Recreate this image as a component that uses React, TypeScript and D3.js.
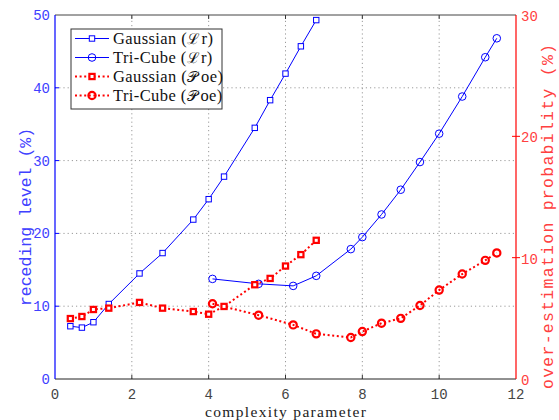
import React from 'react';
import * as d3 from 'd3';

// Axis ticks
const xTicks = [0, 2, 4, 6, 8, 10, 12];
const leftTicks = [0, 10, 20, 30, 40, 50];
const rightTicks = [0, 10, 20, 30];
const gridX = [2, 4, 6, 8, 10];
const gridY = [10, 20, 30, 40];

// Gaussian kernel: complexity parameter, receding level (%), over-estimation probability (%)
const gaussX = [0.4, 0.7, 1.0, 1.4, 2.2, 2.8, 3.6, 4.0, 4.4, 5.2, 5.6, 6.0, 6.4, 6.8];
const gaussLr = [7.25, 7.06, 7.8, 10.3, 14.5, 17.3, 21.9, 24.7, 27.8, 34.5, 38.3, 41.95, 45.7, 49.3];
const gaussPoe = [4.98, 5.15, 5.73, 5.84, 6.31, 5.84, 5.56, 5.34, 5.98, 7.77, 8.29, 9.31, 10.25, 11.43];

// Tri-Cube kernel
const triX = [4.1, 5.3, 6.2, 6.8, 7.7, 8.0, 8.5, 9.0, 9.5, 10.0, 10.6, 11.2, 11.5];
const triLr = [13.75, 13.07, 12.79, 14.17, 17.84, 19.49, 22.6, 26.0, 29.8, 33.7, 38.8, 44.2, 46.8];
const triPoe = [6.2, 5.26, 4.46, 3.72, 3.42, 3.91, 4.6, 5.0, 6.06, 7.33, 8.65, 9.78, 10.39];

// Legend entries: kernel name, script symbol, suffix
const legendKernels = ['Gaussian', 'Tri-Cube', 'Gaussian', 'Tri-Cube'];
const legendSymbols = ['ℒ', 'ℒ', '𝒫', '𝒫'];
const legendSuffix = ['r', 'r', 'oe', 'oe'];

const W = 559;
const H = 420;
const L = 55, R = 516, T = 15, B = 379;

const BLUE = '#0000ff';
const RED = '#ff0000';
const BLUE_TXT = '#4040ff';
const RED_TXT = '#ff4040';
const MONO = '"Liberation Mono", "DejaVu Sans Mono", monospace';
const SERIF = '"Liberation Serif", "DejaVu Serif", serif';

const x = d3.scaleLinear().domain([0, 12]).range([L, R]);
const yL = d3.scaleLinear().domain([0, 50]).range([B, T]);
const yR = d3.scaleLinear().domain([0, 30]).range([B, T]);

function pts(xs: number[], ys: number[]): [number, number][] {
  return xs.map((v, i) => [v, ys[i]]);
}

const lineL = d3.line<[number, number]>().x(d => x(d[0])).y(d => yL(d[1]));
const lineR = d3.line<[number, number]>().x(d => x(d[0])).y(d => yR(d[1]));

const BlueSquare = ({ cx, cy }: { cx: number; cy: number }) => (
  <rect x={cx - 2.7} y={cy - 2.7} width={5.4} height={5.4} fill="white" stroke={BLUE} strokeWidth={1} />
);
const BlueCircle = ({ cx, cy }: { cx: number; cy: number }) => (
  <circle cx={cx} cy={cy} r={3.8} fill="none" stroke={BLUE} strokeWidth={1} />
);
const RedSquare = ({ cx, cy }: { cx: number; cy: number }) => (
  <rect x={cx - 2.6} y={cy - 2.6} width={5.2} height={5.2} fill="white" stroke={RED} strokeWidth={2.2} />
);
const RedCircle = ({ cx, cy }: { cx: number; cy: number }) => (
  <circle cx={cx} cy={cy} r={3.6} fill="none" stroke={RED} strokeWidth={2.2} />
);

export default function App() {
  const gL = pts(gaussX, gaussLr);
  const tL = pts(triX, triLr);
  const gP = pts(gaussX, gaussPoe);
  const tP = pts(triX, triPoe);
  const dotted = '2,2.6';
  const gridDash = '1.2,3';

  const legendRows = [38.5, 57.5, 76.5, 95.5];
  const lx0 = 75, lx1 = 109, lxm = 92;

  return (
    <svg width={W} height={H} style={{ position: 'absolute', left: 0, top: 0, background: 'white' }}>
      <rect x={0} y={0} width={W} height={H} fill="white" />
      {/* grid */}
      <g stroke="#9a9a9a" strokeWidth={1} strokeDasharray={gridDash}>
        {gridX.map(v => (
          <line key={'gx' + v} x1={x(v)} x2={x(v)} y1={B} y2={T} />
        ))}
        {gridY.map(v => (
          <line key={'gy' + v} x1={L} x2={R} y1={yL(v)} y2={yL(v)} />
        ))}
      </g>

      {/* series */}
      <path d={lineL(gL) || ''} fill="none" stroke={BLUE} strokeWidth={1} />
      <path d={lineL(tL) || ''} fill="none" stroke={BLUE} strokeWidth={1} />
      <path d={lineR(gP) || ''} fill="none" stroke={RED} strokeWidth={2} strokeDasharray={dotted} />
      <path d={lineR(tP) || ''} fill="none" stroke={RED} strokeWidth={2} strokeDasharray={dotted} />
      {gL.map((d, i) => <BlueSquare key={'gl' + i} cx={x(d[0])} cy={yL(d[1])} />)}
      {tL.map((d, i) => <BlueCircle key={'tl' + i} cx={x(d[0])} cy={yL(d[1])} />)}
      {gP.map((d, i) => <RedSquare key={'gp' + i} cx={x(d[0])} cy={yR(d[1])} />)}
      {tP.map((d, i) => <RedCircle key={'tp' + i} cx={x(d[0])} cy={yR(d[1])} />)}

      {/* top and bottom axes */}
      <line x1={L} x2={R} y1={T} y2={T} stroke="#444" strokeWidth={1} />
      <line x1={L} x2={R} y1={B} y2={B} stroke="#222" strokeWidth={1} />
      {gridX.map(v => (
        <g key={'xt' + v} stroke="#333" strokeWidth={1}>
          <line x1={x(v)} x2={x(v)} y1={B} y2={B - 4} />
          <line x1={x(v)} x2={x(v)} y1={T} y2={T + 4} />
        </g>
      ))}
      {xTicks.map(v => (
        <text key={'xl' + v} x={x(v)} y={398.5} textAnchor="middle" fontFamily={MONO} fontSize={14} fill="#444">
          {v}
        </text>
      ))}

      {/* left axis */}
      <line x1={L} x2={L} y1={T} y2={B} stroke={BLUE} strokeWidth={1.2} />
      {gridY.map(v => (
        <line key={'lt' + v} x1={L} x2={L + 4} y1={yL(v)} y2={yL(v)} stroke={BLUE} strokeWidth={1} />
      ))}
      {leftTicks.map(v => (
        <text key={'ll' + v} x={50} y={yL(v) + 5} textAnchor="end" fontFamily={MONO} fontSize={14} fill={BLUE_TXT}>
          {v}
        </text>
      ))}

      {/* right axis */}
      <line x1={R} x2={R} y1={T} y2={B} stroke={RED} strokeWidth={1.2} />
      {[10, 20].map(v => (
        <line key={'rt' + v} x1={R - 4} x2={R + 4} y1={yR(v)} y2={yR(v)} stroke={RED} strokeWidth={1} />
      ))}
      {rightTicks.map(v => (
        <text key={'rl' + v} x={521} y={yR(v) + 6} textAnchor="start" fontFamily={MONO} fontSize={14} fill={RED_TXT}>
          {v}
        </text>
      ))}

      {/* axis titles */}
      <text
        x={285.5}
        y={417}
        textAnchor="middle"
        fontFamily={SERIF}
        fontSize={15.5}
        fill="#222"
        textLength={161}
        lengthAdjust="spacing"
      >
        complexity parameter
      </text>
      <text
        transform="translate(31,217) rotate(-90)"
        textAnchor="middle"
        fontFamily={MONO}
        fontSize={16.5}
        fill={BLUE_TXT}
      >
        receding level (%)
      </text>
      <text
        transform="translate(553,216.5) rotate(-90)"
        textAnchor="middle"
        fontFamily={MONO}
        fontSize={16.5}
        fill={RED_TXT}
        textLength={345}
        lengthAdjust="spacing"
      >
        over-estimation probability (%)
      </text>

      {/* legend */}
      <rect x={71} y={29} width={151} height={80} fill="white" stroke="#333" strokeWidth={1} />
      {legendRows.map((ry, i) => (
        <g key={'lg' + i}>
          <line
            x1={lx0}
            x2={lx1}
            y1={ry}
            y2={ry}
            stroke={i < 2 ? BLUE : RED}
            strokeWidth={i < 2 ? 1 : 2}
            strokeDasharray={i < 2 ? undefined : dotted}
          />
          {i === 0 && <BlueSquare cx={lxm} cy={ry} />}
          {i === 1 && <BlueCircle cx={lxm} cy={ry} />}
          {i === 2 && <RedSquare cx={lxm} cy={ry} />}
          {i === 3 && <RedCircle cx={lxm} cy={ry} />}
          <text x={113} y={ry + 5} fontFamily={SERIF} fontSize={16.5} fill="#111" letterSpacing={0.4}>
            <tspan>{legendKernels[i] + ' ('}</tspan>
            <tspan fontSize={15}>{legendSymbols[i]}</tspan>
            <tspan dx={i < 2 ? 1 : 2.5}>{legendSuffix[i] + ')'}</tspan>
          </text>
        </g>
      ))}
    </svg>
  );
}
